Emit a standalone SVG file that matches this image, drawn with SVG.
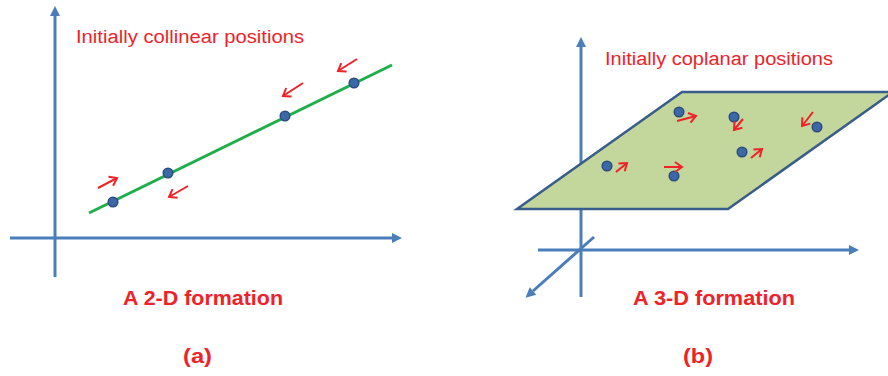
<svg xmlns="http://www.w3.org/2000/svg" width="888" height="376" viewBox="0 0 888 376">
<style>
.axis{stroke:#4a7ebb;stroke-width:3;fill:none}
.mv{stroke:#ee2229;stroke-width:2;fill:none}
.dot{fill:#3d68a6;stroke:#2b4d7e;stroke-width:1.5}
.lbl{font-family:"Liberation Sans",Arial,sans-serif;fill:#ee2229}
.cap{font-family:"Liberation Sans",Arial,sans-serif;font-weight:bold;fill:#ee2229}
</style>
<defs>
<marker id="ax" markerUnits="userSpaceOnUse" markerWidth="12" markerHeight="12" refX="0" refY="5" orient="auto" overflow="visible">
<path d="M0,0 L10,5 L0,10 Z" fill="#4a7ebb"/>
</marker>
<marker id="rd" markerUnits="userSpaceOnUse" markerWidth="10" markerHeight="10" refX="7" refY="5" orient="auto" overflow="visible">
<path d="M0,0 L7,5 L0,10" fill="none" stroke="#ee2229" stroke-width="2"/>
</marker>
</defs>
<rect width="888" height="376" fill="#ffffff"/>
<g id="panel-a">
<g id="axes-a">
<line class="axis" x1="55" y1="277" x2="55" y2="16" marker-end="url(#ax)"/>
<line class="axis" x1="10" y1="238" x2="392" y2="238" marker-end="url(#ax)"/>
</g>
<g id="line-a">
<line x1="89" y1="213" x2="392" y2="65" stroke="#1fae4b" stroke-width="3"/>
</g>
<g id="arrows-a">
<line class="mv" x1="98" y1="188" x2="117" y2="178" marker-end="url(#rd)"/>
<line class="mv" x1="188" y1="186" x2="169" y2="197" marker-end="url(#rd)"/>
<line class="mv" x1="303" y1="83" x2="283" y2="96" marker-end="url(#rd)"/>
<line class="mv" x1="357" y1="59" x2="338" y2="71" marker-end="url(#rd)"/>
</g>
<g id="dots-a">
<circle class="dot" cx="113" cy="202" r="4.8"/>
<circle class="dot" cx="168" cy="173" r="4.8"/>
<circle class="dot" cx="285" cy="116" r="4.8"/>
<circle class="dot" cx="354" cy="83" r="4.8"/>
</g>
<text class="lbl" x="76" y="43" font-size="18" textLength="228" lengthAdjust="spacingAndGlyphs">Initially collinear positions</text>
<text class="cap" x="123" y="305" font-size="20" textLength="160" lengthAdjust="spacingAndGlyphs">A 2-D formation</text>
<text class="cap" x="183" y="363" font-size="21" textLength="29" lengthAdjust="spacingAndGlyphs">(a)</text>
</g>
<g id="panel-b">
<g id="axes-b">
<line class="axis" x1="581" y1="297" x2="581" y2="47" marker-end="url(#ax)"/>
<line class="axis" x1="538" y1="250" x2="849" y2="250" marker-end="url(#ax)"/>
<line class="axis" x1="594" y1="237" x2="533" y2="291" marker-end="url(#ax)"/>
</g>
<g id="plane">
<path d="M517,209 L728,209 L893,92 L682,92 Z" fill="#c3d69b" stroke="#385d8a" stroke-width="2.5" stroke-linejoin="miter"/>
</g>
<g id="dots-b">
<circle class="dot" cx="679" cy="112" r="4.8"/>
<circle class="dot" cx="734" cy="117" r="4.8"/>
<circle class="dot" cx="817" cy="127" r="4.8"/>
<circle class="dot" cx="742" cy="152" r="4.8"/>
<circle class="dot" cx="607" cy="166" r="4.8"/>
<circle class="dot" cx="674" cy="176" r="4.8"/>
</g>
<g id="arrows-b">
<line class="mv" x1="677" y1="121" x2="696" y2="116" marker-end="url(#rd)"/>
<line class="mv" x1="743" y1="119" x2="734" y2="130" marker-end="url(#rd)"/>
<line class="mv" x1="813" y1="112" x2="802" y2="126" marker-end="url(#rd)"/>
<line class="mv" x1="751" y1="158" x2="762" y2="149" marker-end="url(#rd)"/>
<line class="mv" x1="616" y1="172" x2="627" y2="163" marker-end="url(#rd)"/>
<line class="mv" x1="664" y1="167" x2="682" y2="167" marker-end="url(#rd)"/>
</g>
<text class="lbl" x="605" y="65" font-size="18" textLength="228" lengthAdjust="spacingAndGlyphs">Initially coplanar positions</text>
<text class="cap" x="633" y="305" font-size="20" textLength="162" lengthAdjust="spacingAndGlyphs">A 3-D formation</text>
<text class="cap" x="683" y="363" font-size="21" textLength="30" lengthAdjust="spacingAndGlyphs">(b)</text>
</g>
</svg>
